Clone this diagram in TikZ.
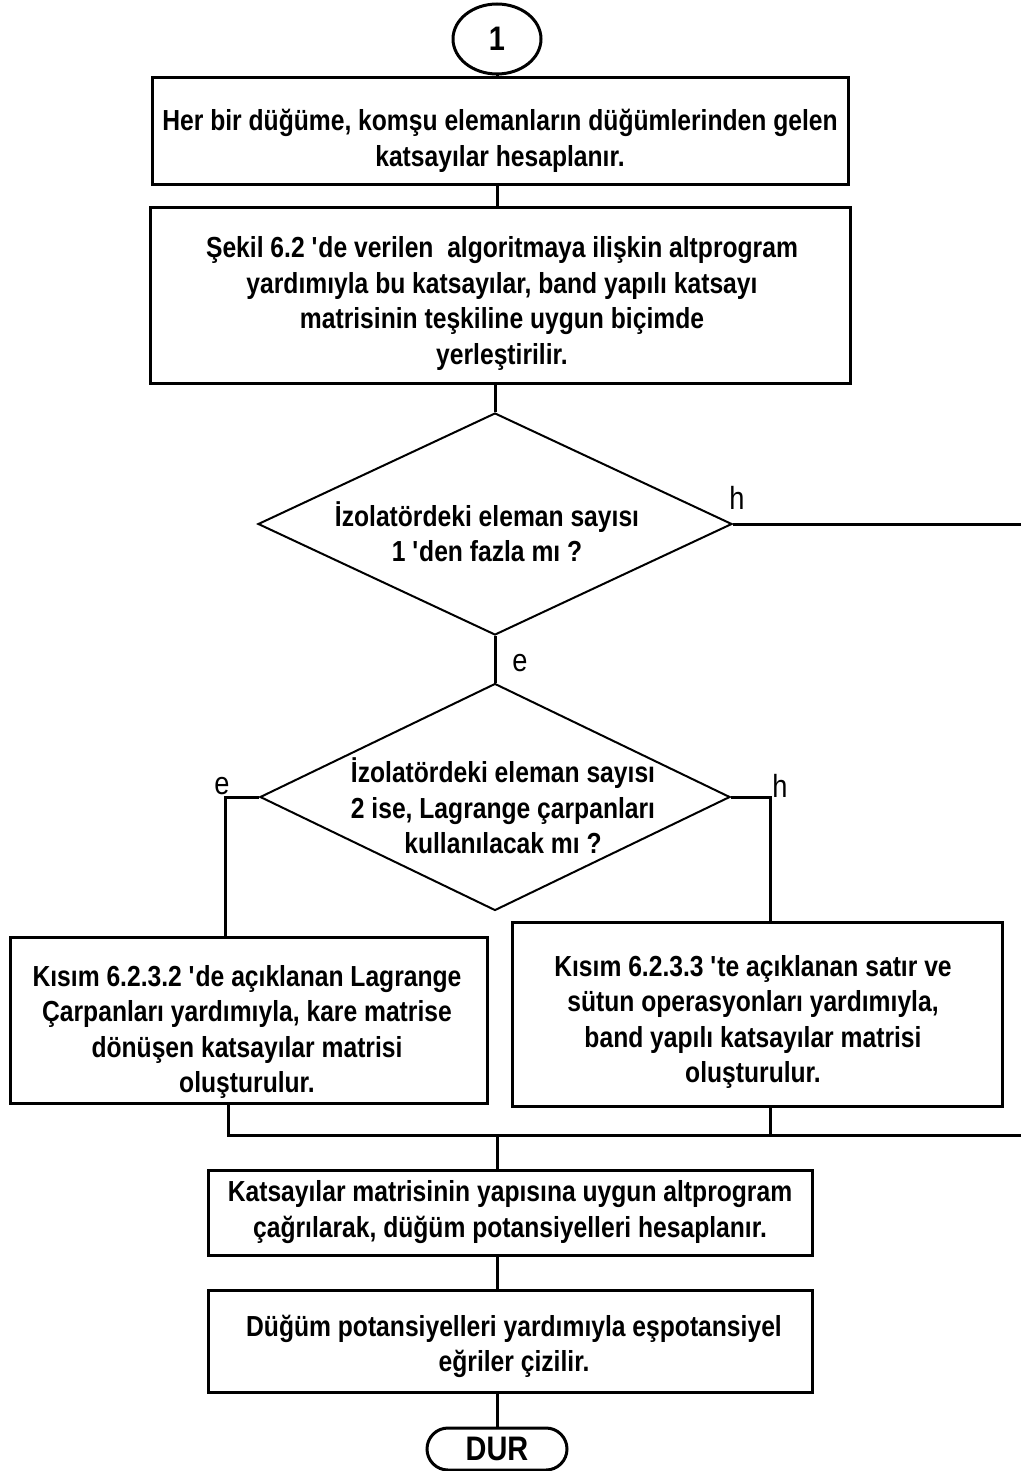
\documentclass[tikz,border=0pt]{standalone}
\usepackage{fontspec}
\setmainfont{Liberation Sans}[FakeStretch=0.85]
\usetikzlibrary{shapes.geometric,shapes.misc}
\newcommand\flowfont{\fontsize{29}{35.5}\selectfont\bfseries}
\newcommand\q{\textquotesingle}
\begin{document}
\begin{tikzpicture}[x=1pt,y=-1pt,
  stepbox/.style={draw,line width=3pt,rectangle,inner sep=0pt},
  steptext/.style={align=center,font=\flowfont,inner sep=0pt},
  decision/.style={draw,line width=2pt,diamond,inner sep=0pt},
  terminal/.style={draw,line width=3pt,inner sep=0pt,font=\fontsize{34}{36}\selectfont\bfseries},
  link/.style={line width=3pt},
  answer/.style={font=\fontsize{32}{34}\selectfont}]
\useasboundingbox (0,0) rectangle (1021,1471);

% start connector
\node[terminal,ellipse,minimum width=88pt,minimum height=70pt] (start) at (497,39) {1};

% process steps
\node[stepbox,minimum width=696pt,minimum height=107pt] (b1) at (500,131.5) {};
\node[steptext] (t1) at (500,141)
  {Her bir düğüme, komşu elemanların düğümlerinden gelen\\katsayılar hesaplanır.};
\node[stepbox,minimum width=700pt,minimum height=175pt] (b2) at (500,295.5) {};
\node[steptext] (t2) at (502,303.5)
  {Şekil 6.2 \q de verilen\ \ algoritmaya ilişkin altprogram\\yardımıyla bu katsayılar, band yapılı katsayı\\matrisinin teşkiline uygun biçimde\\yerleştirilir.};

% first decision
\node[decision,minimum width=474pt,minimum height=222pt] (d1) at (495,524) {};
\node[steptext] (q1) at (487,531.5) {İzolatördeki eleman sayısı\\1 \q den fazla mı ?};

% second decision
\node[decision,minimum width=470pt,minimum height=227pt] (d2) at (495,797) {};
\node[steptext] (q2) at (503,806) {İzolatördeki eleman sayısı\\2 ise, Lagrange çarpanları\\kullanılacak mı ?};

% alternative branches
\node[stepbox,minimum width=477pt,minimum height=166pt] (b3) at (248.5,1020) {};
\node[steptext] (t3) at (247,1032)
  {Kısım 6.2.3.2 \q de açıklanan Lagrange\\Çarpanları yardımıyla, kare matrise\\dönüşen katsayılar matrisi\\oluşturulur.};
\node[stepbox,minimum width=490pt,minimum height=184pt] (b4) at (757,1014) {};
\node[steptext] (t4) at (753,1022)
  {Kısım 6.2.3.3 \q te açıklanan satır ve\\sütun operasyonları yardımıyla,\\band yapılı katsayılar matrisi\\oluşturulur.};

% final steps
\node[stepbox,minimum width=604pt,minimum height=85pt] (b5) at (510,1212.5) {};
\node[steptext] (t5) at (510,1212)
  {Katsayılar matrisinin yapısına uygun altprogram\\çağrılarak, düğüm potansiyelleri hesaplanır.};
\node[stepbox,minimum width=604pt,minimum height=102pt] (b6) at (510,1341) {};
\node[steptext] (t6) at (514,1346.5)
  {Düğüm potansiyelleri yardımıyla eşpotansiyel\\eğriler çizilir.};
\node[terminal,rounded rectangle,minimum width=140pt,minimum height=42pt] (stop) at (497,1449) {DUR};

% junction points
\coordinate (r1) at (1021,524);
\coordinate (el) at (225,797);
\coordinate (hr) at (770,797);
\coordinate (jl) at (228,1135);
\coordinate (jr) at (770,1135);
\coordinate (join) at (497,1135);
\coordinate (r2) at (1021,1135);

% connectors
\draw[link] (start.south) -- (start.south |- b1.north);
\draw[link] (b1.south -| start.south) -- (start.south |- b2.north);
\draw[link] (b2.south -| d1.north) -- (d1.north);
\draw[link] (d1.east) -- (r1);
\draw[link] (d1.south) -- (d2.north);
\draw[link] (d2.west) -- (el) -- (el |- b3.north);
\draw[link] (d2.east) -- (hr) -- (hr |- b4.north);
\draw[link] (b3.south -| jl) -- (jl) -- (r2);
\draw[link] (b4.south -| jr) -- (jr);
\draw[link] (join) -- (join |- b5.north);
\draw[link] (b5.south -| join) -- (join |- b6.north);
\draw[link] (b6.south -| join) -- (stop.north);

% branch labels
\node[answer] (h1) at (737,498) {h};
\node[answer] (e1) at (520,663) {e};
\node[answer] (e2) at (222,786) {e};
\node[answer] (h2) at (780,786) {h};
\end{tikzpicture}
\end{document}
